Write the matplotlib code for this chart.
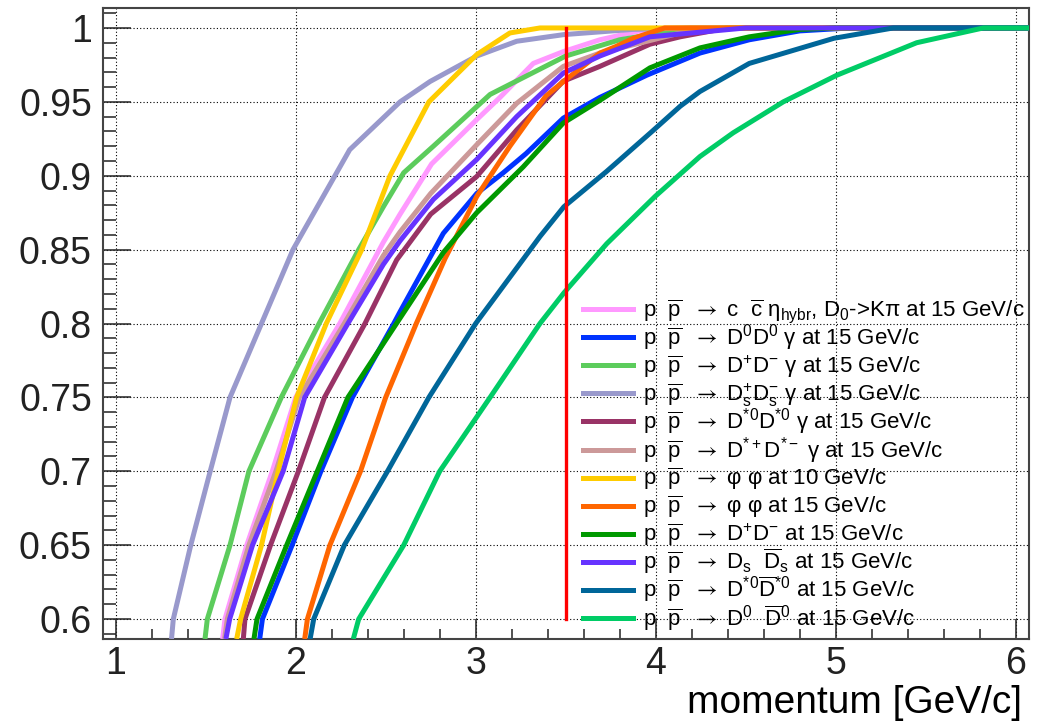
import matplotlib.pyplot as plt
from matplotlib.lines import Line2D
from matplotlib.ticker import MultipleLocator, FormatStrFormatter

plt.rcParams['font.family'] = ['Liberation Sans', 'DejaVu Sans']
plt.rcParams['mathtext.fontset'] = 'custom'
plt.rcParams['mathtext.rm'] = 'Liberation Sans'
plt.rcParams['mathtext.it'] = 'Liberation Sans:italic'
plt.rcParams['mathtext.bf'] = 'Liberation Sans:bold'
plt.rcParams['mathtext.sf'] = 'STIXGeneral'

# cumulative fraction vs. momentum [GeV/c] for each channel
eta_x = [1.594, 1.607, 1.728, 1.87, 2.0, 2.245, 2.487, 2.58, 2.755, 3.006, 3.135, 3.32, 3.487, 3.69, 3.91, 4.2, 6.08]
eta_y = [0.5865, 0.6, 0.65, 0.70, 0.75, 0.80, 0.855, 0.874, 0.908, 0.938, 0.953, 0.976, 0.984, 0.992, 0.998, 1.0, 1.0]

d0d0g_x = [1.80, 1.815, 1.98, 2.14, 2.315, 2.545, 2.58, 2.82, 3.006, 3.153, 3.28, 3.487, 3.69, 3.95, 4.246, 4.52, 4.80, 5.08, 6.08]
d0d0g_y = [0.5865, 0.6, 0.65, 0.70, 0.75, 0.80, 0.808, 0.861, 0.888, 0.902, 0.915, 0.939, 0.953, 0.968, 0.983, 0.992, 0.998, 1.0, 1.0]

dpdmg_x = [1.496, 1.509, 1.635, 1.74, 1.92, 2.13, 2.35, 2.487, 2.60, 2.765, 3.08, 3.5, 3.8, 4.136, 4.4, 6.08]
dpdmg_y = [0.5865, 0.6, 0.65, 0.70, 0.75, 0.80, 0.85, 0.879, 0.902, 0.920, 0.955, 0.981, 0.992, 0.9988, 1.0, 1.0]

dsdsg_x = [1.31, 1.32, 1.417, 1.525, 1.635, 1.81, 1.985, 2.218, 2.30, 2.58, 2.747, 3.006, 3.228, 3.49, 3.87, 4.2, 6.08]
dsdsg_y = [0.5865, 0.6, 0.65, 0.70, 0.75, 0.80, 0.85, 0.90, 0.9176, 0.95, 0.9638, 0.981, 0.991, 0.9955, 0.999, 1.0, 1.0]

dst0g_x = [1.709, 1.718, 1.86, 2.015, 2.16, 2.385, 2.561, 2.75, 3.006, 3.228, 3.487, 3.69, 3.968, 4.136, 4.4, 6.08]
dst0g_y = [0.5865, 0.6, 0.65, 0.70, 0.75, 0.80, 0.843, 0.874, 0.8995, 0.931, 0.964, 0.974, 0.989, 0.994, 1.0, 1.0]

dstpmg_x = [1.605, 1.62, 1.74, 1.89, 2.02, 2.27, 2.487, 2.58, 2.75, 3.006, 3.228, 3.487, 3.69, 4.136, 4.4, 6.08]
dstpmg_y = [0.5865, 0.6, 0.65, 0.70, 0.75, 0.80, 0.846, 0.862, 0.888, 0.921, 0.949, 0.974, 0.983, 0.9966, 1.0, 1.0]

phi10_x = [1.672, 1.694, 1.81, 1.903, 2.005, 2.17, 2.367, 2.524, 2.58, 2.74, 3.006, 3.19, 3.357, 6.08]
phi10_y = [0.5865, 0.6, 0.65, 0.70, 0.75, 0.80, 0.85, 0.90, 0.913, 0.95, 0.982, 0.9966, 1.0, 1.0]

phi15_x = [2.05, 2.065, 2.19, 2.36, 2.50, 2.67, 2.83, 3.006, 3.19, 3.39, 3.49, 3.617, 3.69, 3.78, 3.876, 4.05, 6.08]
phi15_y = [0.5865, 0.6, 0.65, 0.70, 0.75, 0.80, 0.844, 0.886, 0.92, 0.954, 0.964, 0.976, 0.983, 0.9875, 0.993, 1.0, 1.0]

dpdm_x = [1.768, 1.785, 1.95, 2.12, 2.29, 2.56, 2.82, 3.006, 3.264, 3.487, 3.69, 3.968, 4.246, 4.52, 4.80, 5.0, 6.08]
dpdm_y = [0.5865, 0.6, 0.65, 0.70, 0.75, 0.80, 0.848, 0.875, 0.906, 0.9357, 0.951, 0.973, 0.9865, 0.994, 0.999, 1.0, 1.0]

dsds_x = [1.612, 1.633, 1.76, 1.93, 2.05, 2.29, 2.487, 2.58, 2.765, 3.006, 3.228, 3.487, 3.69, 3.968, 4.5, 6.08]
dsds_y = [0.5865, 0.6, 0.65, 0.70, 0.75, 0.80, 0.840, 0.856, 0.884, 0.911, 0.940, 0.9695, 0.981, 0.994, 1.0, 1.0]

dst0dst0_x = [2.08, 2.10, 2.27, 2.51, 2.74, 3.0, 3.358, 3.49, 3.728, 3.98, 4.136, 4.246, 4.52, 4.99, 5.32, 6.08]
dst0dst0_y = [0.5865, 0.6, 0.65, 0.70, 0.75, 0.80, 0.859, 0.879, 0.903, 0.930, 0.947, 0.957, 0.976, 0.993, 1.0, 1.0]

d0d0_x = [2.32, 2.35, 2.60, 2.80, 3.08, 3.357, 3.49, 3.728, 3.997, 4.246, 4.43, 4.709, 5.006, 5.45, 5.82, 6.08]
d0d0_y = [0.5865, 0.6, 0.65, 0.70, 0.75, 0.80, 0.8207, 0.854, 0.886, 0.913, 0.929, 0.950, 0.968, 0.990, 1.0, 1.0]

pp = r"p  $\overline{\mathrm{p}}$  $\mathsf{\rightarrow}$ "
labels = [
    pp + r"c  $\overline{\mathrm{c}}$ $\mathrm{η}_{\mathrm{hybr}}$, D$_{0}$->Kπ at 15 GeV/c",
    pp + r"D$^{0}$D$^{0}$ γ at 15 GeV/c",
    pp + r"D$^{+}$D$^{-}$ γ at 15 GeV/c",
    pp + r"D$_{\mathrm{s}}^{+}$D$_{\mathrm{s}}^{-}$ γ at 15 GeV/c",
    pp + r"D$^{*0}$D$^{*0}$ γ at 15 GeV/c",
    pp + r"D$^{*+}$D$^{*-}$ γ at 15 GeV/c",
    pp + r"φ φ at 10 GeV/c",
    pp + r"φ φ at 15 GeV/c",
    pp + r"D$^{+}$D$^{-}$ at 15 GeV/c",
    pp + r"D$_{\mathrm{s}}$  $\overline{\mathrm{D}}_{\mathrm{s}}$ at 15 GeV/c",
    pp + r"D$^{*0}$$\overline{\mathrm{D}}^{*0}$ at 15 GeV/c",
    pp + r"D$^{0}$  $\overline{\mathrm{D}}^{0}$ at 15 GeV/c",
]
colors = ['#ff99ff', '#0033ff', '#5ccc5c', '#9999cc', '#993366', '#cc9999',
          '#ffcc00', '#ff6600', '#009900', '#6633ff', '#006699', '#00cc66']
series = [(eta_x, eta_y), (d0d0g_x, d0d0g_y), (dpdmg_x, dpdmg_y), (dsdsg_x, dsdsg_y),
          (dst0g_x, dst0g_y), (dstpmg_x, dstpmg_y), (phi10_x, phi10_y), (phi15_x, phi15_y),
          (dpdm_x, dpdm_y), (dsds_x, dsds_y), (dst0dst0_x, dst0dst0_y), (d0d0_x, d0d0_y)]
cut_p = 3.5

W, H = 1039, 723
fig = plt.figure(figsize=(W / 100, H / 100), dpi=100)
ax = fig.add_axes([103 / W, 1 - 639 / H, (1029 - 103) / W, (639 - 8) / H])

for (x, y), c in zip(series, colors):
    ax.plot(x, y, color=c, lw=3.6, solid_capstyle='butt', solid_joinstyle='round', zorder=3)

ax.plot([cut_p, cut_p], [0.6, 1.0], color='red', lw=2.4, zorder=4)

ax.set_xlim(0.9294, 6.074)
ax.set_ylim(0.5865, 1.0135)
ax.xaxis.set_major_locator(MultipleLocator(1))
ax.xaxis.set_minor_locator(MultipleLocator(0.2))
ax.yaxis.set_major_locator(MultipleLocator(0.05))
ax.yaxis.set_minor_locator(MultipleLocator(0.01))
ax.yaxis.set_major_formatter(FormatStrFormatter('%g'))
ax.grid(True, which='major', color='black', lw=0.8, ls=(0, (1, 2)), zorder=1)
ax.set_axisbelow(True)

ax.tick_params(axis='both', which='both', direction='in', colors='#222222', width=1.1,
               top=False, right=False, labelsize=27)
ax.tick_params(axis='y', which='major', length=20, pad=8)
ax.tick_params(axis='y', which='minor', length=9.5)
ax.tick_params(axis='x', which='major', length=14.5, pad=5)
ax.tick_params(axis='x', which='minor', length=7.2)
for s in ax.spines.values():
    s.set_color('#444444')
    s.set_linewidth(1.5)

ax.set_xlabel('momentum [GeV/c]', fontsize=28, ha='right', va='bottom')
ax.xaxis.set_label_coords((1022 - 103) / 926, -(721 - 639) / 631)

# legend rows drawn by hand so that every row gets the same height
to_fig = lambda px, py: (px / W, 1 - py / H)
for i, (lab, c) in enumerate(zip(labels, colors)):
    yrow = 309 + 28.1 * i
    x0, y0 = to_fig(583, yrow)
    x1, _ = to_fig(633, yrow)
    fig.add_artist(Line2D([x0, x1], [y0, y0], color=c, lw=3.6, transform=fig.transFigure))
    tx, ty = to_fig(643, yrow + 7.5)
    fig.text(tx, ty, lab, fontsize=16, va='baseline', ha='left')

fig.savefig('out.png', dpi=100)
